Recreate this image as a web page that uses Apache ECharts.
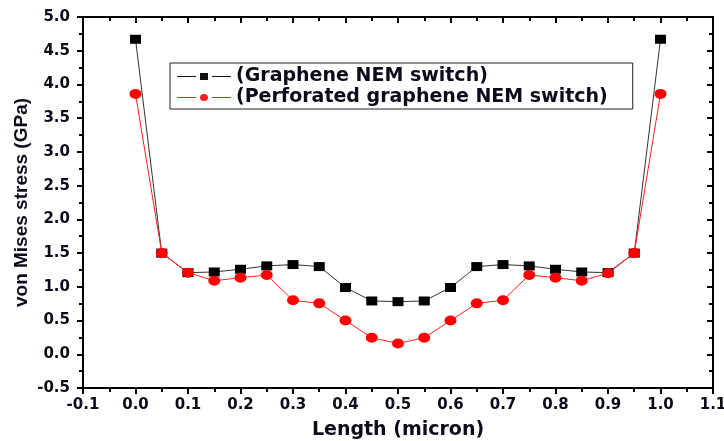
<!DOCTYPE html>
<html>
<head>
<meta charset="utf-8">
<script src="https://cdn.jsdelivr.net/npm/echarts@6/dist/echarts.min.js"></script>
<style>
  html, body { margin: 0; padding: 0; background: #fff; }
  #chart { width: 724px; height: 441px; }
</style>
</head>
<body>
<div id="chart"></div>
<script>
// Position along the beam (micron)
var lengthMicron = [0.0, 0.05, 0.1, 0.15, 0.2, 0.25, 0.3, 0.35, 0.4, 0.45, 0.5,
                    0.55, 0.6, 0.65, 0.7, 0.75, 0.8, 0.85, 0.9, 0.95, 1.0];
// von Mises stress (GPa)
var grapheneStress = [4.67, 1.50, 1.21, 1.22, 1.26, 1.31, 1.33, 1.30, 0.99, 0.79, 0.78,
                      0.79, 0.99, 1.30, 1.33, 1.31, 1.26, 1.22, 1.21, 1.50, 4.67];
var perforatedStress = [3.86, 1.50, 1.21, 1.09, 1.135, 1.175, 0.80, 0.755, 0.50, 0.245, 0.16,
                        0.245, 0.50, 0.755, 0.80, 1.175, 1.135, 1.09, 1.20, 1.50, 3.86];
var seriesNames = ['(Graphene NEM switch)', '(Perforated graphene NEM switch)'];

function pairs(xs, ys) {
  return xs.map(function (x, i) { return [x, ys[i]]; });
}

// Legend glyphs: line segment, gap, marker, gap, line segment (54 x 7 box)
var legendSquareIcon = 'path://M0,3 H19 V4 H0 Z M23,0 H31 V7 H23 Z M35,3 H54 V4 H35 Z';
var legendCircleIcon = 'path://M0,3 H19 V4 H0 Z M31,3.5 A4,3.5 0 1 1 23,3.5 A4,3.5 0 1 1 31,3.5 Z M35,3 H54 V4 H35 Z';

var inkColor = '#0b0b1c';
var labelFont = {
  fontFamily: 'DejaVu Sans',
  fontWeight: 'bold',
  fontSize: 15,
  color: inkColor
};
var axisLineStyle = { onZero: false, lineStyle: { color: '#000', width: 2 } };
var tickStyle = { width: 2, color: '#000' };

var chart = echarts.init(document.getElementById('chart'));
chart.setOption({
  animation: false,
  backgroundColor: '#fff',
  grid: { left: 83, right: 11, top: 17, bottom: 53, containLabel: false, outerBoundsMode: 'none' },
  legend: {
    orient: 'vertical',
    left: 170,
    top: 63,
    padding: [4, 25, 2, 7],
    itemGap: 2,
    itemWidth: 54,
    itemHeight: 7,
    borderColor: '#222',
    borderWidth: 1,
    backgroundColor: '#fff',
    textStyle: { fontFamily: 'DejaVu Sans', fontWeight: 'bold', fontSize: 19, color: inkColor },
    data: [
      { name: seriesNames[0], icon: legendSquareIcon, itemStyle: { color: '#111' } },
      { name: seriesNames[1], icon: legendCircleIcon, itemStyle: { color: '#ff1a1a' } }
    ]
  },
  xAxis: [{
    type: 'value',
    min: -0.1, max: 1.1, interval: 0.1,
    name: 'Length (micron)',
    nameLocation: 'middle',
    nameGap: 33,
    nameTextStyle: { fontFamily: 'DejaVu Sans', fontWeight: 'bold', fontSize: 19, color: inkColor },
    axisLine: axisLineStyle,
    axisTick: { show: true, length: 6, lineStyle: tickStyle },
    minorTick: { show: true, splitNumber: 2, length: 4, lineStyle: tickStyle },
    splitLine: { show: false },
    axisLabel: Object.assign({ margin: 10, formatter: function (v) { return v.toFixed(1); } }, labelFont)
  }, {
    type: 'value',
    position: 'top',
    min: -0.1, max: 1.1, interval: 0.1,
    axisLine: axisLineStyle,
    axisTick: { show: true, inside: true, length: 6, lineStyle: tickStyle },
    minorTick: { show: true, splitNumber: 2, length: 4, lineStyle: tickStyle },
    splitLine: { show: false },
    axisLabel: { show: false }
  }],
  yAxis: [{
    type: 'value',
    min: -0.5, max: 5.0, interval: 0.5,
    name: 'von Mises stress (GPa)',
    nameLocation: 'middle',
    nameGap: 52,
    nameMoveOverlap: false,
    nameTextStyle: { fontFamily: 'Liberation Sans', fontWeight: 'bold', fontSize: 19, color: inkColor },
    axisLine: axisLineStyle,
    axisTick: { show: true, length: 6, lineStyle: tickStyle },
    minorTick: { show: true, splitNumber: 2, length: 4, lineStyle: tickStyle },
    splitLine: { show: false },
    axisLabel: Object.assign({ margin: 13, formatter: function (v) { return v.toFixed(1); } }, labelFont)
  }, {
    type: 'value',
    position: 'right',
    min: -0.5, max: 5.0, interval: 0.5,
    axisLine: axisLineStyle,
    axisTick: { show: true, inside: true, length: 6, lineStyle: tickStyle },
    minorTick: { show: true, splitNumber: 2, length: 4, lineStyle: tickStyle },
    splitLine: { show: false },
    axisLabel: { show: false }
  }],
  series: [{
    name: seriesNames[0],
    type: 'line',
    xAxisIndex: 0, yAxisIndex: 0,
    data: pairs(lengthMicron, grapheneStress),
    symbol: 'rect',
    symbolSize: [11, 9],
    itemStyle: { color: '#000' },
    lineStyle: { color: '#333', width: 1 },
    z: 3
  }, {
    name: seriesNames[1],
    type: 'line',
    xAxisIndex: 0, yAxisIndex: 0,
    data: pairs(lengthMicron, perforatedStress),
    symbol: 'circle',
    symbolSize: [12, 10],
    itemStyle: { color: '#ff0000' },
    lineStyle: { color: '#ff2020', width: 1 },
    z: 4
  }]
});
</script>
</body>
</html>
